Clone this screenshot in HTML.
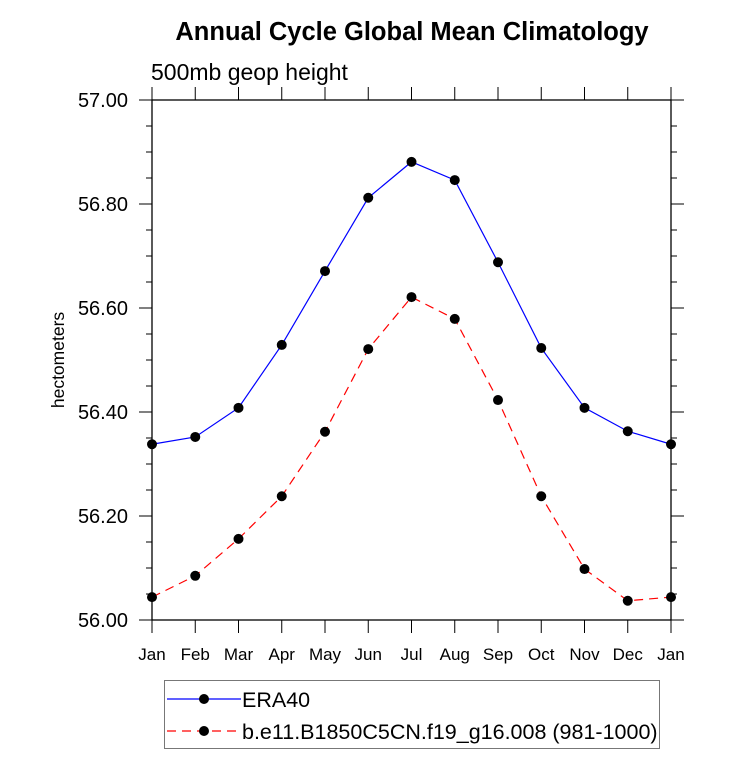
<!DOCTYPE html>
<html><head><meta charset="utf-8"><style>
body{margin:0;background:#fff}
svg{display:block;font-family:"Liberation Sans",Arial,sans-serif}
</style></head><body>
<svg id="chart" width="733" height="770">
<text x="412" y="40" text-anchor="middle" font-size="25.5" font-weight="bold">Annual Cycle Global Mean Climatology</text>
<text x="151" y="80" font-size="23">500mb geop height</text>
<text transform="translate(64,360) rotate(-90)" text-anchor="middle" font-size="17.5">hectometers</text>
<g id="axes"></g><g id="series"></g>
<g>
<rect x="164.5" y="680.5" width="495" height="68" fill="none" stroke="#777"/>
<g>
<line x1="167" y1="699" x2="241" y2="699" stroke="#0000ff" stroke-width="1.2"/>
<circle cx="204" cy="699" r="5" fill="#000"/>
<text x="242" y="707" font-size="21.5">ERA40</text></g>
<g>
<line x1="167" y1="731" x2="241" y2="731" stroke="#ff0000" stroke-width="1.2" stroke-dasharray="9,6"/>
<circle cx="204" cy="731" r="5" fill="#000"/>
<text x="242" y="739" font-size="21.5">b.e11.B1850C5CN.f19_g16.008 (981-1000)</text></g>
</g>
</svg>
<script>
const months=["Jan","Feb","Mar","Apr","May","Jun","Jul","Aug","Sep","Oct","Nov","Dec","Jan"];
const era40=[56.338,56.352,56.408,56.529,56.671,56.812,56.881,56.846,56.688,56.523,56.408,56.363,56.338];
const model=[56.044,56.085,56.156,56.238,56.362,56.521,56.621,56.579,56.423,56.238,56.098,56.037,56.044];
const yTicks=["56.00","56.20","56.40","56.60","56.80","57.00"];
const NS="http://www.w3.org/2000/svg";
const L=152,R=671,T=100,B=620,ymin=56,ymax=57;
const xs=i=>L+(R-L)*i/12;
const ys=v=>B-(v-ymin)/(ymax-ymin)*(B-T);
function mk(tag,at,parent){const e=document.createElementNS(NS,tag);for(const k in at)e.setAttribute(k,at[k]);parent.appendChild(e);return e;}
const ax=document.getElementById('axes');
const fr=mk('rect',{x:L,y:T,width:R-L,height:B-T,fill:'none',stroke:'#000','stroke-width':1.3},ax);


for(let v=0;v<=20;v++){
 const val=ymin+v*0.05,y=ys(val),maj=v%4===0,len=maj?13:6;
 mk('line',{x1:L-len,y1:y,x2:L,y2:y,stroke:'#000'},ax);
 mk('line',{x1:R,y1:y,x2:R+len,y2:y,stroke:'#000'},ax);
}
yTicks.forEach(t=>{
 const tx=mk('text',{x:L-24,y:ys(parseFloat(t))+7,'text-anchor':'end','font-size':20},ax);
 tx.textContent=t;
 
 
});
months.forEach((m,i)=>{
 const x=xs(i);
 mk('line',{x1:x,y1:B,x2:x,y2:B+13,stroke:'#000'},ax);
 mk('line',{x1:x,y1:T,x2:x,y2:T-13,stroke:'#000'},ax);
 const tx=mk('text',{x:x,y:B+40,'text-anchor':'middle','font-size':17},ax);
 tx.textContent=m;
 
 
});
const sg=document.getElementById('series');
function draw(data,color,dash,name){
 const g=mk('g',{},sg);
 
 
 const p=mk('polyline',{points:data.map((v,i)=>xs(i)+','+ys(v)).join(' '),fill:'none',stroke:color,'stroke-width':1.2},g);
 if(dash)p.setAttribute('stroke-dasharray',dash);
 data.forEach((v,i)=>{
  const c=mk('circle',{cx:xs(i),cy:ys(v),r:5,fill:'#000'},g);
  
  
 });
}
draw(era40,'#0000ff',null,'series-era40');
draw(model,'#ff0000','9,6','series-model');
</script>
</body></html>
